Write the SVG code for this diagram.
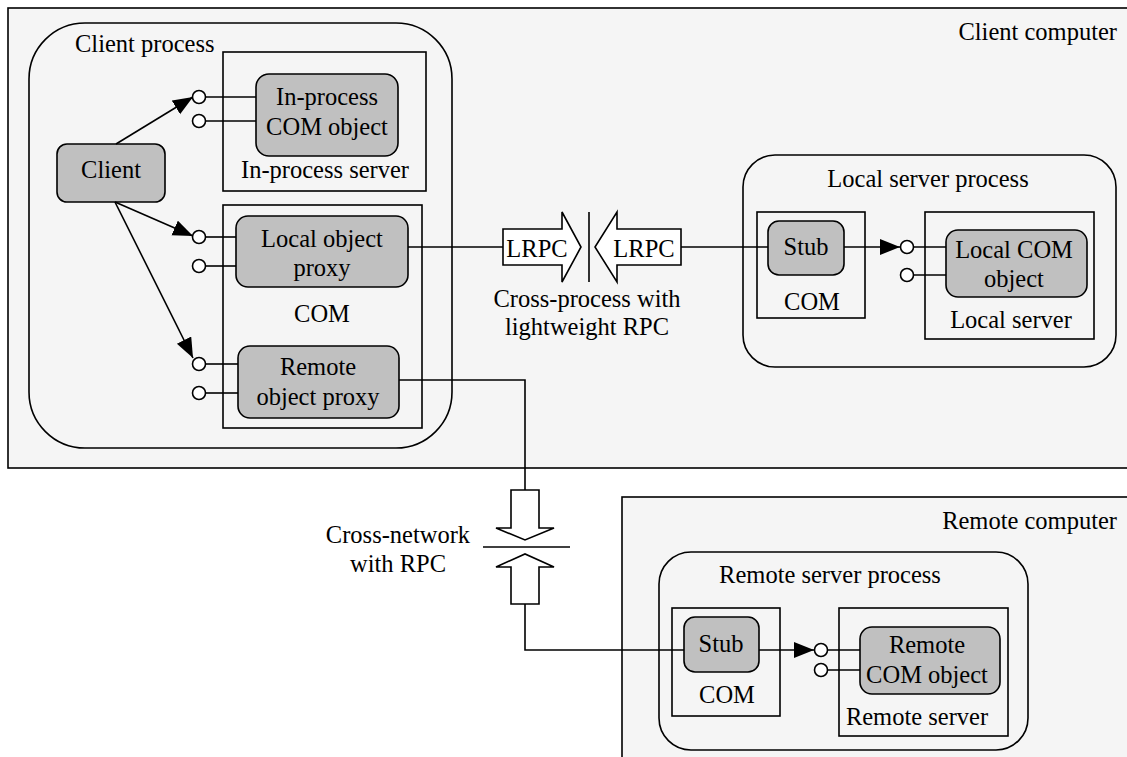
<svg xmlns="http://www.w3.org/2000/svg" width="1127" height="757" viewBox="0 0 1127 757">
<style>
.c{text-anchor:middle}
.e{text-anchor:end}
.area{fill:#f5f5f5;stroke:#000;stroke-width:1.6}
.box{fill:none;stroke:#000;stroke-width:1.6}
.obj{fill:#c0c0c0;stroke:#000;stroke-width:1.6}
.ln{fill:none;stroke:#000;stroke-width:1.6}
.lp{fill:#fff;stroke:#000;stroke-width:1.6}
.big{fill:#fff;stroke:#000;stroke-width:1.6;stroke-linejoin:miter}
</style>
<defs>
<marker id="ah" markerUnits="userSpaceOnUse" markerWidth="22" markerHeight="18" refX="20" refY="8" orient="auto">
<path d="M0,0 L20,8 L0,16 Z" fill="#000"/>
</marker>
</defs>
<rect width="1127" height="757" fill="#fff"/>
<g font-family="Liberation Serif, Times New Roman, serif" font-size="24.5" fill="#000">
<g id="client-computer">
<rect class="area" x="8" y="8" width="1135" height="460"/>
<text class="e" x="1117" y="40">Client computer</text>
</g>
<g id="remote-computer">
<rect class="area" x="622" y="497" width="520" height="280"/>
<text class="e" x="1117" y="529">Remote computer</text>
</g>
<g id="client-process">
<rect class="area" x="29" y="23" width="423" height="425" rx="56" ry="56"/>
<text x="75" y="52">Client process</text>
</g>
<g id="inproc-server">
<rect class="box" x="223" y="52" width="203" height="139"/>
<text class="c" x="325" y="178">In-process server</text>
</g>
<g id="inproc-object">
<rect class="obj" x="256" y="74" width="142" height="82" rx="13"/>
<text class="c" x="327" y="105">In-process</text>
<text class="c" x="327" y="135">COM object</text>
</g>
<g id="client">
<rect class="obj" x="57" y="144" width="108" height="58" rx="10"/>
<text class="c" x="111" y="178">Client</text>
</g>
<g id="com-client">
<rect class="box" x="223" y="205" width="199" height="223"/>
<text class="c" x="322" y="322">COM</text>
</g>
<g id="local-proxy">
<rect class="obj" x="236" y="216" width="172" height="71" rx="12"/>
<text class="c" x="322" y="247">Local object</text>
<text class="c" x="322" y="276">proxy</text>
</g>
<g id="remote-proxy">
<rect class="obj" x="238" y="346" width="161" height="72" rx="12"/>
<text class="c" x="318" y="375">Remote</text>
<text class="c" x="318" y="405">object proxy</text>
</g>
<g id="local-server-process">
<rect class="area" x="743" y="155" width="373" height="212" rx="32"/>
<text class="c" x="928" y="187">Local server process</text>
</g>
<g id="com-local">
<rect class="box" x="757" y="212" width="108" height="106"/>
<text class="c" x="812" y="310">COM</text>
</g>
<g id="local-stub">
<rect class="obj" x="768" y="221" width="76" height="54" rx="11"/>
<text class="c" x="806" y="255">Stub</text>
</g>
<g id="local-server">
<rect class="box" x="925" y="212" width="169" height="127"/>
<text class="c" x="1011" y="328">Local server</text>
</g>
<g id="local-object">
<rect class="obj" x="946" y="230" width="141" height="67" rx="12"/>
<text class="c" x="1014" y="258">Local COM</text>
<text class="c" x="1014" y="287">object</text>
</g>
<g id="remote-server-process">
<rect class="area" x="659" y="552" width="369" height="198" rx="32"/>
<text class="c" x="830" y="583">Remote server process</text>
</g>
<g id="com-remote">
<rect class="box" x="672" y="608" width="108" height="108"/>
<text class="c" x="727" y="703">COM</text>
</g>
<g id="remote-stub">
<rect class="obj" x="684" y="617" width="75" height="55" rx="11"/>
<text class="c" x="721" y="652">Stub</text>
</g>
<g id="remote-server">
<rect class="box" x="839" y="608" width="169" height="128"/>
<text class="c" x="917" y="725">Remote server</text>
</g>
<g id="remote-object">
<rect class="obj" x="860" y="627" width="140" height="67" rx="12"/>
<text class="c" x="927" y="653">Remote</text>
<text class="c" x="927" y="683">COM object</text>
</g>
<g id="lrpc">
<path class="big" d="M503,229 H562 V212 L581,247 L562,282 V265 H503 Z"/>
<path class="big" d="M681,229 H617 V212 L595,247 L617,282 V265 H681 Z"/>
<line class="ln" x1="589" y1="212" x2="589" y2="282"/>
<text class="c" x="537" y="257">LRPC</text>
<text class="c" x="644" y="257">LRPC</text>
<text class="c" x="587" y="307">Cross-process with</text>
<text class="c" x="587" y="335">lightweight RPC</text>
</g>
<g id="rpc-network">
<path class="big" d="M511,490 H539 V528 H554 L525,540 L496,528 H511 Z"/>
<path class="big" d="M511,604 H539 V567 H554 L525,554 L496,567 H511 Z"/>
<line class="ln" x1="483" y1="547" x2="570" y2="547"/>
<text class="c" x="398" y="543">Cross-network</text>
<text class="c" x="398" y="572">with RPC</text>
</g>
</g>
<g id="connectors">
<line class="ln" x1="116" y1="144" x2="193" y2="97" marker-end="url(#ah)"/>
<line class="ln" x1="115" y1="202" x2="193" y2="236" marker-end="url(#ah)"/>
<line class="ln" x1="115" y1="202" x2="193" y2="358" marker-end="url(#ah)"/>
<line class="ln" x1="206" y1="97" x2="256" y2="97"/>
<line class="ln" x1="206" y1="121" x2="256" y2="121"/>
<line class="ln" x1="206" y1="237" x2="236" y2="237"/>
<line class="ln" x1="206" y1="266" x2="236" y2="266"/>
<line class="ln" x1="206" y1="364" x2="238" y2="364"/>
<line class="ln" x1="206" y1="393" x2="238" y2="393"/>
<circle class="lp" cx="199" cy="97" r="6.5"/>
<circle class="lp" cx="199" cy="121" r="6.5"/>
<circle class="lp" cx="199" cy="237" r="6.5"/>
<circle class="lp" cx="199" cy="266" r="6.5"/>
<circle class="lp" cx="199" cy="364" r="6.5"/>
<circle class="lp" cx="199" cy="393" r="6.5"/>
<line class="ln" x1="408" y1="247" x2="503" y2="247"/>
<line class="ln" x1="681" y1="247" x2="768" y2="247"/>
<polyline class="ln" points="399,380 525,380 525,490"/>
<polyline class="ln" points="525,604 525,650 684,650"/>
<line class="ln" x1="844" y1="247" x2="900" y2="247" marker-end="url(#ah)"/>
<line class="ln" x1="913" y1="247" x2="946" y2="247"/>
<line class="ln" x1="913" y1="275" x2="946" y2="275"/>
<circle class="lp" cx="907" cy="247" r="6.5"/>
<circle class="lp" cx="907" cy="275" r="6.5"/>
<line class="ln" x1="759" y1="650" x2="814" y2="650" marker-end="url(#ah)"/>
<line class="ln" x1="827" y1="650" x2="860" y2="650"/>
<line class="ln" x1="827" y1="670" x2="860" y2="670"/>
<circle class="lp" cx="821" cy="650" r="6.5"/>
<circle class="lp" cx="821" cy="670" r="6.5"/>
</g>
</svg>
